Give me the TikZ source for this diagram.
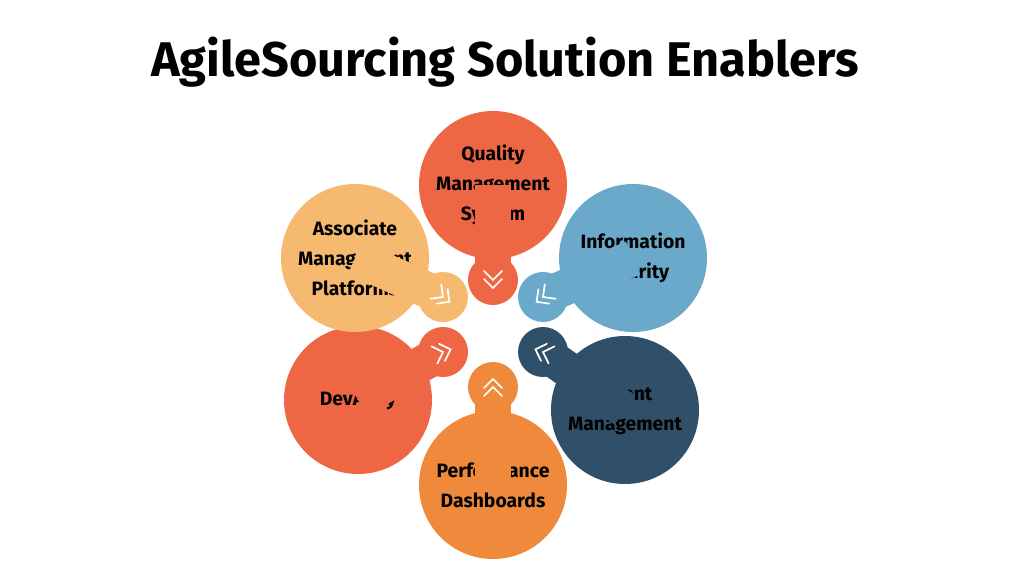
\documentclass[tikz,border=0pt]{standalone}
\usepackage{fontspec}
\setmainfont{Fira Sans}
\definecolor{qualcol}{HTML}{EE6744}
\definecolor{infocol}{HTML}{6AA9C9}
\definecolor{talcol}{HTML}{2F5068}
\definecolor{perfcol}{HTML}{EF8A3D}
\definecolor{devcol}{HTML}{EE6644}
\definecolor{assoccol}{HTML}{F5BA6F}
\tikzset{
  big/.style={circle,minimum size=148pt*0.75,inner sep=0pt,align=center,
    font=\fontsize{14.5}{22.5}\selectfont\bfseries},
  small/.style={circle,minimum size=50pt*0.75,inner sep=0pt},
  chev/.style={white,line width=1.3pt,line cap=round},
}
\newcommand{\petal}[6]{% name, big pos, small pos, colour, angle, text
  \node[big,fill=#4] (#1) at #2 {#6};
  \node[small,fill=#4] (#1s) at #3 {};
  \draw[#4,line width=27pt] (#1.center) -- (#1s.center);
  \begin{scope}[shift={(#1s)},rotate=#5]
    \draw[chev] (-9,9) -- (0,0) -- (-9,-9);
    \draw[chev] (-1,9) -- (8,0) -- (-1,-9);
  \end{scope}
}
\begin{document}
\begin{tikzpicture}[x=0.75pt,y=0.75pt]
  \useasboundingbox[fill=white] (0,0) rectangle (1024,576);
  \node[font=\fontsize{36.5}{44}\selectfont\bfseries] (title) at (505,514) {AgileSourcing Solution Enablers};
  % petals
  \petal{qual}{(493,391)}{(493,296)}{qualcol}{-90}{Quality\\Management\\System}
  \petal{info}{(633,318)}{(543,279)}{infocol}{-143}{Information\\Security}
  \petal{tal}{(625,166)}{(543,224)}{talcol}{161}{Talent\\Management}
  \petal{perf}{(493,91)}{(493,189)}{perfcol}{90}{Performance\\Dashboards}
  \petal{dev}{(358,176)}{(443,224)}{devcol}{19}{DevAlley}
  \petal{assoc}{(355,318)}{(443,279)}{assoccol}{-37}{Associate\\Management\\Platforms}
\end{tikzpicture}
\end{document}
